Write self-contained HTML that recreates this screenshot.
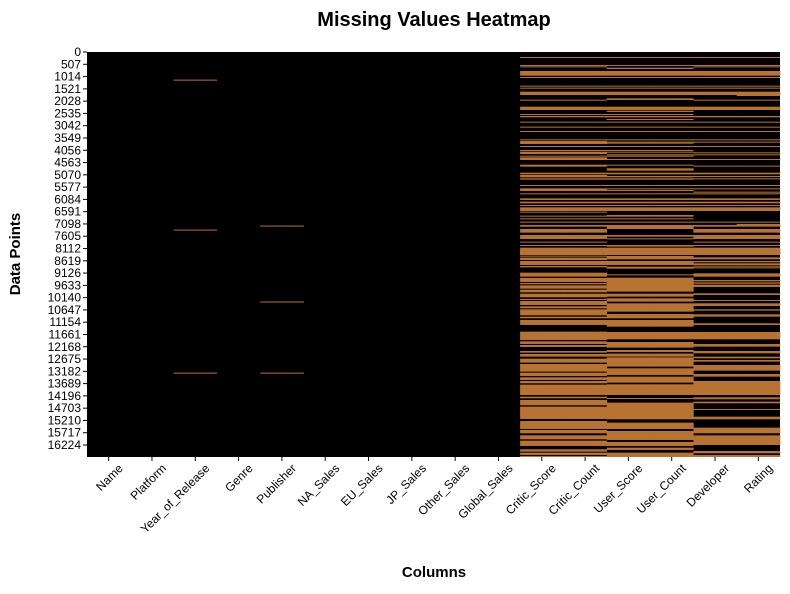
<!DOCTYPE html>
<html><head><meta charset="utf-8"><style>
body{margin:0;background:#fff;font-family:"Liberation Sans",Arial,sans-serif}
svg text{font-family:"Liberation Sans",Arial,sans-serif}
</style></head><body>
<svg id="chart" width="790" height="589" xmlns="http://www.w3.org/2000/svg">
<rect width="790" height="589" fill="#fff"/>
<text x="434" y="26" text-anchor="middle" font-size="20" font-weight="bold">Missing Values Heatmap</text>
<text x="434" y="577" text-anchor="middle" font-size="15" font-weight="bold">Columns</text>
<text x="20" y="254" text-anchor="middle" font-size="15" font-weight="bold" transform="rotate(-90 20 254)">Data Points</text>
<g id="cells"></g><g id="xt"></g><g id="yt"></g>
</svg>
<script>
const columns=["Name","Platform","Year_of_Release","Genre","Publisher","NA_Sales","EU_Sales","JP_Sales","Other_Sales","Global_Sales","Critic_Score","Critic_Count","User_Score","User_Count","Developer","Rating"];
const totalRows=16719;
const yTickStep=507;
const missYear=[[1140,1180],[7330,7370],[13235,13275]];
const missPublisher=[[7165,7205],[10300,10340],[13235,13275]];
const missCritic=[[206,234],[537,564],[592,619],[784,977],[1032,1059],[1390,1417],[1472,1500],[1637,1775],[1968,1995],[2257,2394],[2559,2587],[2642,2697],[2876,2903],[3082,3110],[3261,3289],[3605,3633],[3674,3798],[3880,3908],[4045,4073],[4114,4211],[4279,4307],[4348,4458],[4651,4733],[4981,5050],[5077,5174],[5215,5270],[5490,5518],[5628,5738],[5834,5862],[6041,6109],[6178,6247],[6316,6357],[6412,6563],[6591,6632],[6756,6797],[6866,6907],[7004,7045],[7141,7210],[7307,7458],[7554,7719],[7829,7871],[7967,8008],[8077,8380],
[8173,8366],[8407,8448],[8489,8586],[8627,8792],[8833,8889],[9109,9274],[9329,9494],[9535,9590],[9632,9769],[9810,9921],[9976,10127],[10196,10237],[10278,10443],[10498,10581],[10622,10870],[10925,10994],[11063,11269],[11544,11888],[11943,12053],[12095,12177],[12342,12411],[12466,12576],[12659,12824],[12879,13195],[13237,13374],[13429,13539],[13581,13677],[13732,14159],[14227,14296],[14365,14585],[14640,15149],[15232,15562],[15603,15741],[15824,15989],[16044,16264],[16401,16498],[16539,16635],[16677,16719]];
const missUser=[[206,234],[537,564],[647,702],[784,977],[1032,1059],[1390,1417],[1472,1500],[1637,1775],[1913,1981],[2257,2394],[2422,2477],[2559,2587],[2642,2697],[2766,2793],[2876,2903],[3082,3110],[3261,3289],[3605,3633],[3701,3729],[3743,3784],[3880,3908],[4045,4073],[4114,4155],[4224,4252],[4279,4307],[4417,4458],[4651,4692],[4802,4899],[4981,5050],[5119,5174],[5215,5270],[5490,5518],[5628,5655],[5697,5738],[5834,5862],[6041,6109],[6178,6247],[6316,6357],[6412,6563],[6729,6797],[6866,6907],[7004,7045],[7141,7307],[7554,7623],[7692,7733],[7967,8036],[8077,8380],
[8173,8379],[8421,8558],[8627,8792],[8861,8944],[9177,9219],[9315,9893],[9976,10099],[10168,10306],[10375,10719],[10815,10994],[11063,11338],[11558,11861],[11971,12205],[12301,12384],[12452,12576],[12604,12989],[13058,13333],[13402,13650],[13718,14159],[14282,14324],[14475,15163],[15301,15562],[15645,16016],[16099,16264],[16333,16429],[16539,16719]];
const missDeveloper=[[206,234],[537,564],[592,619],[784,977],[1032,1059],[1390,1417],[1472,1500],[1637,1775],[1968,1995],[2257,2394],[2642,2697],[2876,2903],[3082,3110],[3261,3289],[3605,3633],[3701,3729],[3880,3908],[4142,4169],[4224,4252],[4417,4458],[4692,4733],[4981,5050],[5119,5146],[5215,5243],[5490,5518],[5628,5655],[5765,5793],[5834,5862],[6041,6109],[6178,6247],[6316,6357],[6412,6563],[7004,7045],[7141,7210],[7307,7458],[7554,7719],[7829,7871],[7967,8008],[8077,8380],
[8173,8366],[8476,8558],[8627,8648],[8696,8716],[8751,8771],[8820,8840],[8889,8909],[9136,9274],[9411,9431],[9480,9500],[9549,9569],[9618,9638],[9659,9687],[9962,10031],[10237,10265],[10375,10485],[10622,10677],[10829,10925],[11200,11269],[11558,11861],[12053,12163],[12342,12439],[12576,12645],[12714,12782],[12920,13154],[13292,13402],[13581,14159],[14255,14337],[14434,14503],[14736,14778],[15053,15163],[15507,15741],[15824,16223],[16470,16567],[16635,16719]];
const missRatingExtra=[[1775,1816],[7100,7141]];

const X0=87,X1=780,Y0=52,Y1=457;
const cw=(X1-X0)/columns.length;
const xCol=i=>X0+i*cw;
const yRow=r=>Y0+r*(Y1-Y0)/totalRows;
const NS="http://www.w3.org/2000/svg";
const cells=document.getElementById('cells');
const bg=document.createElementNS(NS,'rect');


bg.setAttribute('x',X0);bg.setAttribute('y',Y0);bg.setAttribute('width',X1-X0);bg.setAttribute('height',Y1-Y0);bg.setAttribute('fill','#000');
cells.appendChild(bg);
function draw(ci,ranges){
  ranges.forEach(([a,b])=>{
    const r=document.createElementNS(NS,'rect');
    
    
    const y=yRow(a),h=Math.max(1,yRow(b)-y);
    r.setAttribute('x',xCol(ci));r.setAttribute('y',y);
    r.setAttribute('width',cw+0.3);r.setAttribute('height',h);
    r.setAttribute('fill','#b87333');
    cells.appendChild(r);
  });
}
draw(2,missYear);draw(4,missPublisher);
draw(10,missCritic);draw(11,missCritic);
draw(12,missUser);draw(13,missUser);
draw(14,missDeveloper);draw(15,missDeveloper);draw(15,missRatingExtra);

const xt=document.getElementById('xt');
columns.forEach((c,i)=>{
  const cx=xCol(i)+cw/2;
  const l=document.createElementNS(NS,'line');
  
  
  l.setAttribute('x1',cx);l.setAttribute('x2',cx);l.setAttribute('y1',Y1);l.setAttribute('y2',Y1+4);l.setAttribute('stroke','#000');
  xt.appendChild(l);
  const t=document.createElementNS(NS,'text');
  
  
  const tx=cx+15,ty=Y1+12;
  t.setAttribute('x',tx);t.setAttribute('y',ty);t.setAttribute('text-anchor','end');t.setAttribute('font-size','12');
  t.setAttribute('transform',`rotate(-45 ${tx} ${ty})`);
  t.textContent=c;xt.appendChild(t);
});
const yt=document.getElementById('yt');
for(let v=0;v<totalRows;v+=yTickStep){
  const y=yRow(v+0.5);
  const l=document.createElementNS(NS,'line');
  
  
  l.setAttribute('x1',X0-4);l.setAttribute('x2',X0);l.setAttribute('y1',y);l.setAttribute('y2',y);l.setAttribute('stroke','#000');
  yt.appendChild(l);
  const t=document.createElementNS(NS,'text');
  
  
  t.setAttribute('x',X0-6);t.setAttribute('y',y+4);t.setAttribute('text-anchor','end');t.setAttribute('font-size','12');
  t.textContent=v;yt.appendChild(t);
}
</script>
</body></html>
